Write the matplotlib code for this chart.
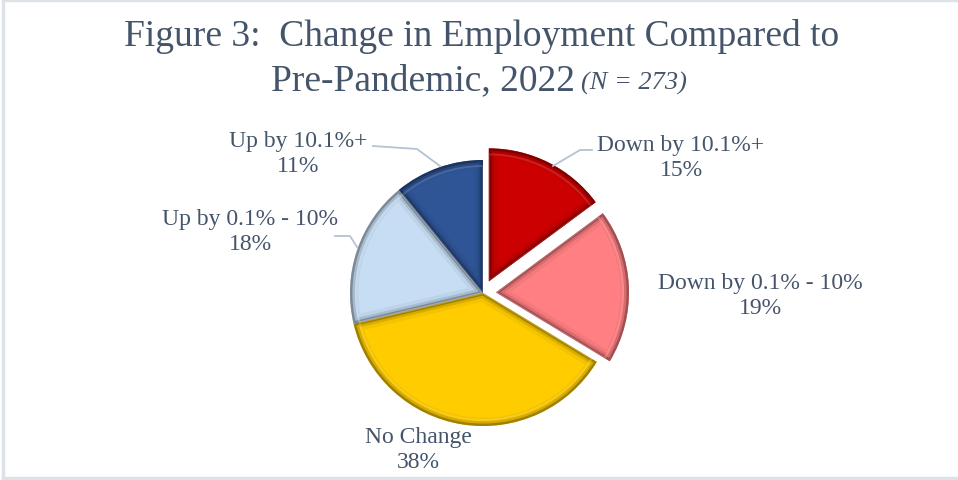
import matplotlib.pyplot as plt
from matplotlib.lines import Line2D
from matplotlib.patches import Wedge
from matplotlib.colors import to_rgb
import numpy as np

# employment change categories, clockwise from 12 o'clock
labels = ['Down by 10.1%+', 'Down by 0.1% - 10%', 'No Change', 'Up by 0.1% - 10%', 'Up by 10.1%+']
shares = [15, 19, 38, 18, 11]
colors = ['#CC0000', '#FF7F82', '#FFCC00', '#C6DDF3', '#2F5597']
explode = [13, 13, 0, 0, 0]

W, H = 958, 481
txt = '#44546A'
plt.rcParams['font.family'] = ['Liberation Serif', 'DejaVu Serif']


def Y(py):
    # pixel row -> data y (y axis points up)
    return H - py


def shade(c, f):
    r, g, b = to_rgb(c)
    if f < 1:
        return (r * f, g * f, b * f)
    return tuple(v + (1 - v) * (f - 1) for v in (r, g, b))


fig = plt.figure(figsize=(W / 100, H / 100), dpi=100)
ax = fig.add_axes([0, 0, 1, 1])

cx, cy, R = 483, 294, 133
wedges, _ = ax.pie(shares, colors=colors, explode=explode, startangle=90,
                   counterclock=False, center=(cx, Y(cy)), radius=R,
                   wedgeprops=dict(edgecolor='none'))

# bevel look: soft dark rim inside each slice, faint light band just within it
for w, c in zip(wedges, colors):
    for lw, f, a in [(12, 0.75, 0.18), (7, 0.6, 0.3), (3.5, 0.45, 0.55)]:
        rim = Wedge(w.center, w.r, w.theta1, w.theta2, facecolor='none',
                    edgecolor=shade(c, f), lw=lw, alpha=a)
        ax.add_patch(rim)
        rim.set_clip_path(w)
    hl = Wedge(w.center, w.r - 6, w.theta1, w.theta2, facecolor='none',
               edgecolor=shade(c, 1.35), lw=1.5, alpha=0.35)
    ax.add_patch(hl)
    hl.set_clip_path(w)

ax.set_xlim(0, W)
ax.set_ylim(0, H)
ax.set_aspect('auto')
ax.axis('off')

# category labels
pos = [(681, 158), (760, 296), (418, 450), (250, 232), (298, 154)]
for lab, s, (px, py) in zip(labels, shares, pos):
    ax.text(px, Y(py), f'{lab}\n{s}%', ha='center', va='center',
            fontsize=17, color=txt, linespacing=1.3)

# leader lines
lc = '#B4C2D3'
ax.plot([592, 580, 553], [Y(151), Y(151), Y(167)], color=lc, lw=1.3)
ax.plot([373, 417, 440], [Y(147), Y(150), Y(167)], color=lc, lw=1.3)
ax.plot([335, 350, 357], [Y(237), Y(237), Y(248)], color=lc, lw=1.3)

# title
ax.text(482, Y(46), 'Figure 3:  Change in Employment Compared to', ha='center',
        va='baseline', fontsize=27, color=txt)
ax.text(575, Y(90), 'Pre-Pandemic, 2022', ha='right', va='baseline',
        fontsize=27, color=txt)
ax.text(581, Y(90), '(N = 273)', ha='left', va='baseline', fontsize=19,
        style='italic', color=txt)

# thin frame
bc = '#DDE2E9'
for xs, ys in [([2.5, 2.5], [0.5, 478.5]), ([2.5, W], [0.5, 0.5]), ([2.5, W], [478.5, 478.5])]:
    fig.add_artist(Line2D(np.array(xs) / W, 1 - np.array(ys) / H, color=bc, lw=2.5))

fig.savefig('out.png', dpi=100, facecolor='white')
